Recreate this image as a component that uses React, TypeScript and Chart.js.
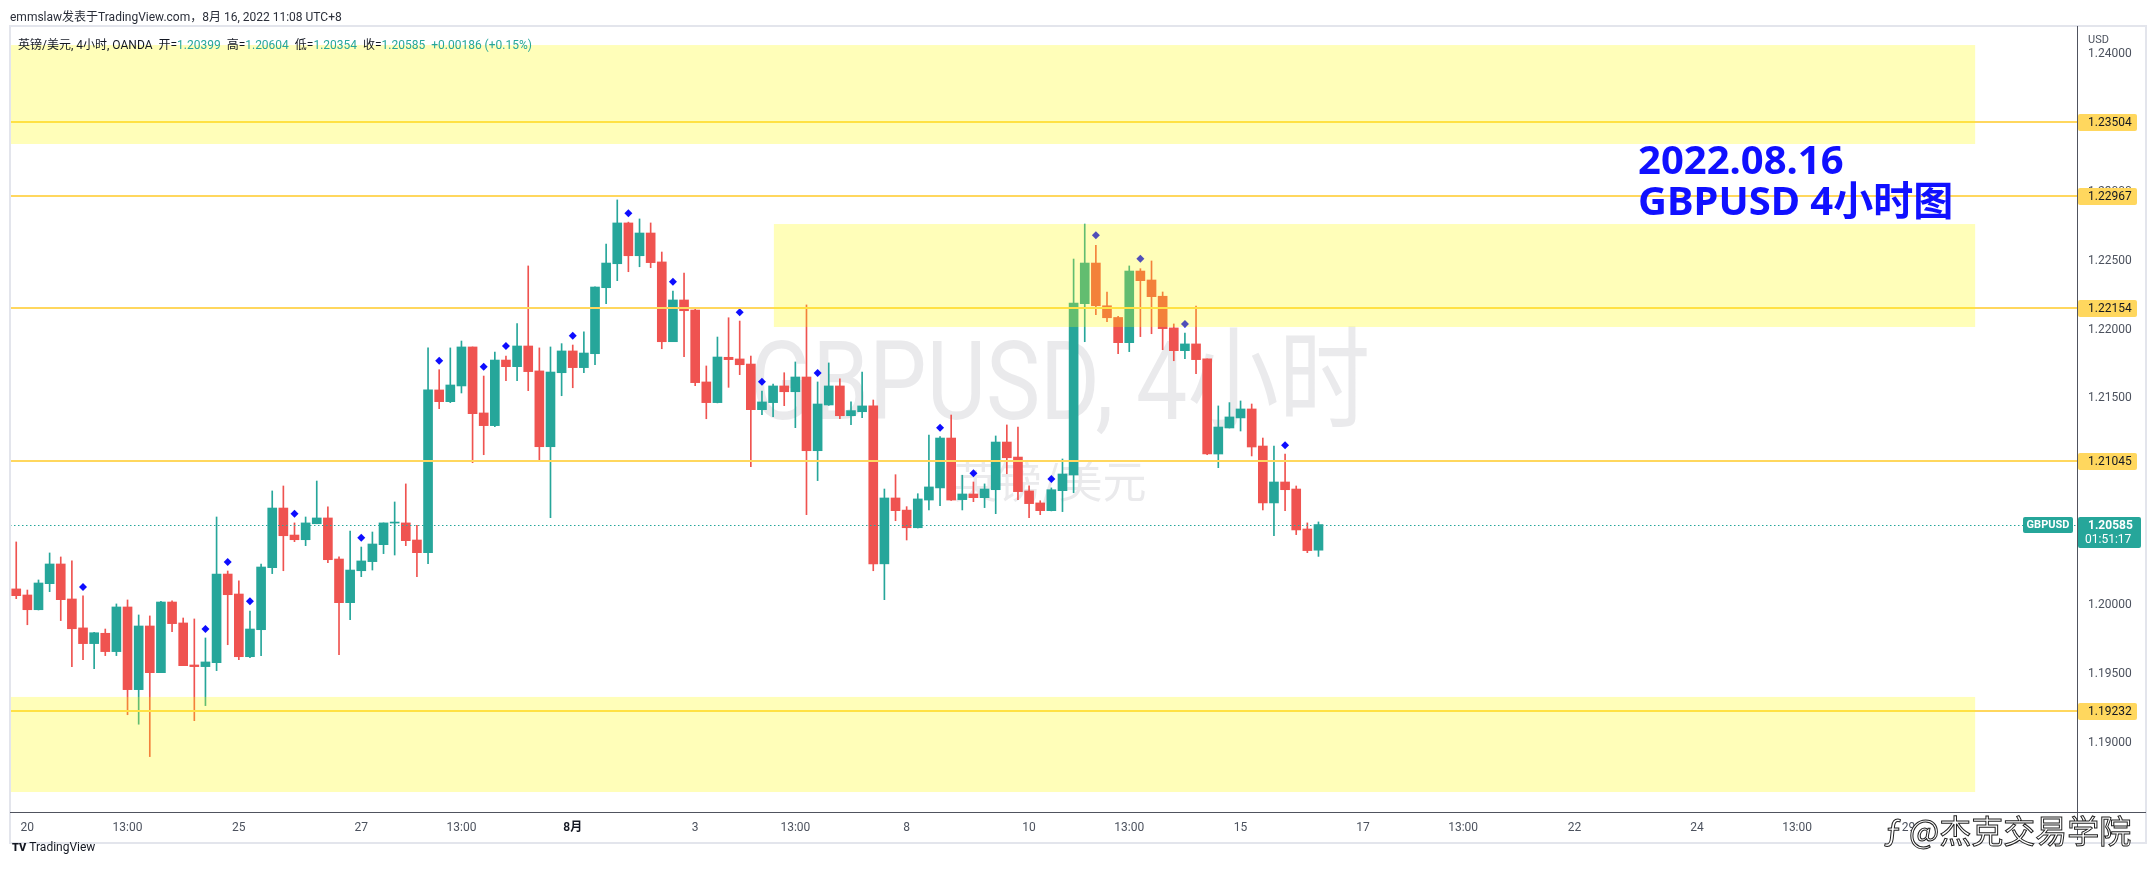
import React, { useEffect, useRef } from 'react';
import { Chart, registerables } from 'chart.js';

Chart.register(...registerables);

// ---- data (4h GBPUSD candles, slot 0 = Jul 20 01:00, UTC+8) ----
const FIRST_SLOT = -1;
const opens = [
  1.20118, 1.20074, 1.19967, 1.20156, 1.20299, 1.20045, 1.19835, 1.19721, 1.19796, 1.19663,
  1.19987, 1.19387, 1.19849, 1.19510, 1.20023, 1.19871, 1.19566, 1.19554, 1.19583, 1.20226,
  1.20081, 1.19626, 1.19822, 1.20272, 1.20705, 1.20509, 1.20475, 1.20591, 1.20633, 1.20335,
  1.20018, 1.20250, 1.20316, 1.20439, 1.20596, 1.20597, 1.20473, 1.20381, 1.21562, 1.21477,
  1.21591, 1.21874, 1.21395, 1.21303, 1.21779, 1.21731, 1.21881, 1.21700, 1.21150, 1.21687,
  1.21845, 1.21724, 1.21825, 1.22304, 1.22478, 1.22774, 1.22536, 1.22701, 1.22491, 1.21912,
  1.22215, 1.22142, 1.21620, 1.21470, 1.21799, 1.21787, 1.21750, 1.21419, 1.21470, 1.21591,
  1.21549, 1.21656, 1.21121, 1.21453, 1.21591, 1.21375, 1.21404, 1.21446, 1.20300, 1.20778,
  1.20690, 1.20562, 1.20763, 1.20851, 1.21213, 1.20766, 1.20807, 1.20780, 1.20838, 1.21184,
  1.21075, 1.20829, 1.20742, 1.20686, 1.20831, 1.20945, 1.22188, 1.22483, 1.22173, 1.22088,
  1.21905, 1.22425, 1.22360, 1.22242, 1.22012, 1.21847, 1.21896, 1.21787, 1.21097, 1.21286,
  1.21359, 1.21424, 1.21155, 1.20742, 1.20894, 1.20843, 1.20553, 1.20399,
];
const highs = [
  1.20459, 1.20110, 1.20183, 1.20379, 1.20350, 1.20321, 1.20067, 1.19803, 1.19827, 1.20009,
  1.20038, 1.19929, 1.19922, 1.20028, 1.20031, 1.19907, 1.19900, 1.19762, 1.20640, 1.20248,
  1.20176, 1.19958, 1.20299, 1.20829, 1.20865, 1.20597, 1.20640, 1.20901, 1.20713, 1.20350,
  1.20538, 1.20422, 1.20531, 1.20597, 1.20749, 1.20880, 1.20580, 1.21867, 1.21709, 1.21867,
  1.21917, 1.21874, 1.21663, 1.21837, 1.21808, 1.22043, 1.22462, 1.21867, 1.21874, 1.21898,
  1.21888, 1.21983, 1.22311, 1.22621, 1.22941, 1.22780, 1.22803, 1.22774, 1.22563, 1.22280,
  1.22411, 1.22152, 1.21736, 1.21946, 1.22086, 1.22062, 1.21808, 1.21554, 1.21605, 1.21687,
  1.21765, 1.22179, 1.21620, 1.21758, 1.21642, 1.21475, 1.21692, 1.21489, 1.20843, 1.20947,
  1.20715, 1.20809, 1.21235, 1.21223, 1.21380, 1.20943, 1.20894, 1.20880, 1.21228, 1.21308,
  1.21293, 1.20867, 1.20758, 1.20851, 1.21061, 1.22512, 1.22766, 1.22612, 1.22273, 1.22097,
  1.22462, 1.22442, 1.22498, 1.22273, 1.22041, 1.21975, 1.22171, 1.21787, 1.21446, 1.21470,
  1.21482, 1.21460, 1.21213, 1.21155, 1.21097, 1.20865, 1.20597, 1.20604,
];
const lows = [
  1.20047, 1.19858, 1.19965, 1.20098, 1.19888, 1.19554, 1.19604, 1.19539, 1.19634, 1.19634,
  1.19205, 1.19136, 1.18901, 1.19510, 1.19808, 1.19561, 1.19162, 1.19271, 1.19525, 1.19713,
  1.19604, 1.19619, 1.19634, 1.20229, 1.20250, 1.20461, 1.20432, 1.20591, 1.20308, 1.19641,
  1.19895, 1.20207, 1.20255, 1.20374, 1.20364, 1.20432, 1.20207, 1.20301, 1.21426, 1.21470,
  1.21540, 1.21034, 1.21092, 1.21296, 1.21629, 1.21629, 1.21557, 1.21056, 1.20635, 1.21520,
  1.21578, 1.21687, 1.21745, 1.22188, 1.22355, 1.22420, 1.22456, 1.22449, 1.21861, 1.21912,
  1.21803, 1.21593, 1.21353, 1.21468, 1.21581, 1.21673, 1.21005, 1.21382, 1.21368, 1.21448,
  1.21288, 1.20657, 1.20904, 1.21450, 1.21353, 1.21310, 1.21361, 1.20250, 1.20040, 1.20613,
  1.20473, 1.20560, 1.20691, 1.20722, 1.20760, 1.20691, 1.20751, 1.20708, 1.20664, 1.20954,
  1.20766, 1.20635, 1.20657, 1.20684, 1.20679, 1.20816, 1.21912, 1.22108, 1.22057, 1.21825,
  1.21840, 1.21949, 1.21970, 1.21854, 1.21774, 1.21789, 1.21680, 1.21092, 1.20998, 1.21286,
  1.21264, 1.21083, 1.20691, 1.20504, 1.20686, 1.20512, 1.20381, 1.20354,
];
const closes = [
  1.20069, 1.19967, 1.20161, 1.20299, 1.20040, 1.19829, 1.19721, 1.19800, 1.19663, 1.19987,
  1.19387, 1.19849, 1.19510, 1.20023, 1.19866, 1.19561, 1.19554, 1.19588, 1.20226, 1.20076,
  1.19626, 1.19827, 1.20277, 1.20705, 1.20504, 1.20475, 1.20597, 1.20633, 1.20330, 1.20018,
  1.20255, 1.20321, 1.20444, 1.20597, 1.20599, 1.20468, 1.20381, 1.21562, 1.21477, 1.21598,
  1.21874, 1.21390, 1.21303, 1.21779, 1.21731, 1.21881, 1.21695, 1.21150, 1.21692, 1.21845,
  1.21724, 1.21830, 1.22309, 1.22483, 1.22774, 1.22536, 1.22701, 1.22486, 1.21912, 1.22215,
  1.22137, 1.21615, 1.21470, 1.21801, 1.21782, 1.21745, 1.21419, 1.21475, 1.21591, 1.21549,
  1.21656, 1.21121, 1.21460, 1.21591, 1.21375, 1.21412, 1.21446, 1.20300, 1.20778, 1.20686,
  1.20562, 1.20771, 1.20858, 1.21213, 1.20763, 1.20807, 1.20780, 1.20843, 1.21184, 1.21070,
  1.20824, 1.20737, 1.20686, 1.20838, 1.20952, 1.22193, 1.22483, 1.22173, 1.22086, 1.21905,
  1.22425, 1.22355, 1.22239, 1.22007, 1.21847, 1.21896, 1.21782, 1.21097, 1.21293, 1.21366,
  1.21424, 1.21148, 1.20742, 1.20894, 1.20838, 1.20546, 1.20396, 1.20585,
];

const markerSlots = [5, 16, 18, 20, 24, 30, 37, 41, 43, 49, 54, 58, 64, 66, 71, 82, 85, 92, 96, 100, 104, 113];
const markerPrices = [
  1.20132, 1.19827, 1.20313, 1.20028, 1.20664, 1.20490, 1.21774, 1.21731, 1.21881, 1.21956,
  1.22844, 1.22348, 1.22126, 1.21622, 1.21685, 1.21288, 1.20957, 1.20916, 1.22684, 1.22515,
  1.22041, 1.21160,
];

const levelPrices = [1.23504, 1.22967, 1.22154, 1.21045, 1.19232];
const zoneTops = [1.24065, 1.22766, 1.19334];
const zoneBottoms = [1.23347, 1.22019, 1.18644];
const zoneStarts = [-10, 67.07, -10];
const zoneEnds = [175.0, 175.0, 175.0];
const lastPrice = 1.20585;
const countdown = '01:51:17';

const yTickValues = [1.19, 1.195, 1.2, 1.205, 1.21, 1.215, 1.22, 1.225, 1.23, 1.235, 1.24];
const xTickSlots = [0, 9, 19, 30, 39, 49, 60, 69, 79, 90, 99, 109, 120, 129, 139, 150, 159, 169];
const xTickLabels = ['20', '13:00', '25', '27', '13:00', '8月', '3', '13:00', '8', '10', '13:00', '15', '17', '13:00', '22', '24', '13:00', '29'];

const X_MIN = -1.56;
const X_MAX = 184.15;
const Y_MIN = 1.18499;
const Y_MAX = 1.24196;

const UP = '#26a69a';
const DOWN = '#ef5350';
const GOLD = '#ffd75e';
const FONT = 'Roboto, "Noto Sans CJK SC", sans-serif';

function roundRect(ctx: CanvasRenderingContext2D, x: number, y: number, w: number, h: number, r: number) {
  ctx.beginPath();
  ctx.moveTo(x + r, y);
  ctx.lineTo(x + w - r, y);
  ctx.quadraticCurveTo(x + w, y, x + w, y + r);
  ctx.lineTo(x + w, y + h - r);
  ctx.quadraticCurveTo(x + w, y + h, x + w - r, y + h);
  ctx.lineTo(x + r, y + h);
  ctx.quadraticCurveTo(x, y + h, x, y + h - r);
  ctx.lineTo(x, y + r);
  ctx.quadraticCurveTo(x, y, x + r, y);
  ctx.closePath();
}

const overlayPlugin = {
  id: 'tvOverlay',
  beforeDatasetsDraw(chart: any) {
    const { ctx, chartArea: a } = chart;
    ctx.save();
    ctx.beginPath();
    ctx.rect(a.left, a.top, a.right - a.left, a.bottom - a.top);
    ctx.clip();
    ctx.fillStyle = 'rgba(149,152,161,0.2)';
    ctx.textBaseline = 'alphabetic';
    ctx.font = '110px ' + FONT;
    const big = 'GBPUSD, 4小时';
    const w = ctx.measureText(big).width;
    ctx.save();
    ctx.translate(750, 419);
    ctx.scale(620 / w, 1);
    ctx.fillText(big, 0, 0);
    ctx.restore();
    ctx.font = '44px "Noto Sans CJK SC", sans-serif';
    ctx.textAlign = 'center';
    ctx.fillText('英镑/美元', 1050, 498);
    ctx.restore();
  },
  afterDatasetsDraw(chart: any) {
    const { ctx, chartArea: a, scales } = chart;
    const xs = scales.x;
    const ys = scales.y;
    ctx.save();
    ctx.beginPath();
    ctx.rect(a.left, a.top, a.right - a.left, a.bottom - a.top);
    ctx.clip();
    // horizontal levels
    ctx.strokeStyle = GOLD;
    ctx.lineWidth = 2;
    levelPrices.forEach((p) => {
      const py = Math.round(ys.getPixelForValue(p));
      ctx.beginPath();
      ctx.moveTo(a.left, py);
      ctx.lineTo(a.right, py);
      ctx.stroke();
    });
    // last price dotted line
    const lp = Math.round(ys.getPixelForValue(lastPrice)) + 0.5;
    ctx.strokeStyle = UP;
    ctx.lineWidth = 1;
    ctx.setLineDash([1.5, 2.5]);
    ctx.beginPath();
    ctx.moveTo(a.left, lp);
    ctx.lineTo(a.right, lp);
    ctx.stroke();
    ctx.setLineDash([]);
    // zones
    ctx.fillStyle = 'rgba(255,252,2,0.28)';
    zoneTops.forEach((t, i) => {
      const x0 = Math.max(a.left, xs.getPixelForValue(zoneStarts[i]));
      const x1 = xs.getPixelForValue(zoneEnds[i]);
      const y0 = ys.getPixelForValue(t);
      const y1 = ys.getPixelForValue(zoneBottoms[i]);
      ctx.fillRect(x0, y0, x1 - x0, y1 - y0);
    });
    ctx.restore();
  },
  afterDraw(chart: any) {
    const { ctx, chartArea: a, scales } = chart;
    const ys = scales.y;
    ctx.save();
    // frame
    ctx.strokeStyle = '#e3e5ec';
    ctx.lineWidth = 2;
    ctx.strokeRect(a.left, 26, 2146 - a.left, 843 - 26);
    // axis cross lines
    ctx.strokeStyle = '#50535e';
    ctx.lineWidth = 1;
    ctx.beginPath();
    ctx.moveTo(a.left, a.bottom + 0.5);
    ctx.lineTo(2146, a.bottom + 0.5);
    ctx.moveTo(a.right + 0.5, 26);
    ctx.lineTo(a.right + 0.5, 840);
    ctx.stroke();
    // USD
    ctx.fillStyle = '#4c525e';
    ctx.font = '11px ' + FONT;
    ctx.textBaseline = 'middle';
    ctx.textAlign = 'left';
    ctx.fillText('USD', a.right + 11, 40);
    // level labels
    levelPrices.forEach((p) => {
      const py = Math.round(ys.getPixelForValue(p));
      ctx.fillStyle = GOLD;
      roundRect(ctx, a.right + 1, py - 8, 59, 17, 2);
      ctx.fill();
      ctx.fillStyle = '#131722';
      ctx.font = '12px ' + FONT;
      ctx.fillText(p.toFixed(5), a.right + 11, py + 0.5);
    });
    // last price label
    const lp = Math.round(ys.getPixelForValue(lastPrice));
    ctx.fillStyle = UP;
    roundRect(ctx, a.right + 1, lp - 8, 63, 31, 2);
    ctx.fill();
    ctx.fillStyle = '#ffffff';
    ctx.font = 'bold 12px ' + FONT;
    ctx.fillText(lastPrice.toFixed(5), a.right + 11, lp + 0.5);
    ctx.font = '12px ' + FONT;
    ctx.fillText(countdown, a.right + 8, lp + 15);
    // symbol tag
    ctx.fillStyle = UP;
    roundRect(ctx, a.right - 54, lp - 8, 50, 16, 2);
    ctx.fill();
    ctx.fillStyle = '#ffffff';
    ctx.font = 'bold 11px ' + FONT;
    ctx.textAlign = 'center';
    ctx.fillText('GBPUSD', a.right - 29, lp + 0.5);
    ctx.restore();
  },
};

export default function App() {
  const ref = useRef<HTMLCanvasElement | null>(null);

  useEffect(() => {
    if (!ref.current) return;
    const slots = opens.map((_, i) => FIRST_SLOT + i);
    const colors = opens.map((o, i) => (closes[i] >= o ? UP : DOWN));
    const bodyData = slots.map((x, i) => ({ x, y: [opens[i], closes[i]] }));
    const wickData = slots.map((x, i) => ({ x, y: [lows[i], highs[i]] }));
    const markerData = markerSlots.map((x, i) => ({ x, y: markerPrices[i] }));

    const chart = new Chart(ref.current, {
      type: 'bar',
      data: {
        datasets: [
          {
            type: 'scatter',
            data: markerData as any,
            pointStyle: 'rectRot',
            pointRadius: 4,
            backgroundColor: '#0d0dff',
            borderWidth: 0,
            order: 0,
          } as any,
          {
            type: 'bar',
            data: bodyData as any,
            backgroundColor: colors,
            borderWidth: 0,
            barThickness: 9,
            minBarLength: 1,
            grouped: false,
            order: 1,
          } as any,
          {
            type: 'bar',
            data: wickData as any,
            backgroundColor: colors,
            borderWidth: 0,
            barThickness: 1,
            grouped: false,
            order: 2,
          } as any,
        ],
      },
      options: {
        responsive: false,
        animation: false,
        devicePixelRatio: 1,
        layout: { padding: { left: 10, top: 27, right: 10, bottom: 32 } },
        plugins: { legend: { display: false }, tooltip: { enabled: false } },
        scales: {
          x: {
            type: 'linear',
            min: X_MIN,
            max: X_MAX,
            offset: false,
            grid: { display: false, drawTicks: false },
            border: { display: false },
            afterBuildTicks: (s: any) => {
              s.ticks = xTickSlots.map((v) => ({ value: v }));
            },
            afterFit: (s: any) => {
              s.height = 31;
            },
            ticks: {
              autoSkip: false,
              maxRotation: 0,
              padding: 9,
              color: (c: any) => (c.tick && c.tick.value === 49 ? '#131722' : '#4c525e'),
              font: (c: any) => ({ family: FONT, size: 12, weight: c.tick && c.tick.value === 49 ? '600' : 'normal' }),
              callback: (v: any) => {
                const k = xTickSlots.indexOf(Number(v));
                return k >= 0 ? xTickLabels[k] : '';
              },
            },
          },
          y: {
            type: 'linear',
            position: 'right',
            min: Y_MIN,
            max: Y_MAX,
            grid: { display: false, drawTicks: false },
            border: { display: false },
            afterBuildTicks: (s: any) => {
              s.ticks = yTickValues.map((v) => ({ value: v }));
            },
            afterFit: (s: any) => {
              s.width = 69;
            },
            ticks: {
              padding: 11,
              color: '#4c525e',
              font: { family: FONT, size: 12 },
              callback: (v: any) => Number(v).toFixed(5),
            },
          },
        },
      } as any,
      plugins: [overlayPlugin as any],
    });
    return () => chart.destroy();
  }, []);

  const teal = { color: UP };
  return (
    <div
      style={{
        position: 'fixed',
        left: 0,
        top: 0,
        width: 2156,
        height: 875,
        background: '#ffffff',
        overflow: 'hidden',
        fontFamily: FONT,
      }}
    >
      <canvas ref={ref} width={2156} height={875} style={{ position: 'absolute', left: 0, top: 0 }} />
      <div style={{ position: 'absolute', left: 10, top: 7, fontSize: 12, color: '#2a2e39', whiteSpace: 'nowrap' }}>
        emmslaw发表于TradingView.com，8月 16, 2022 11:08 UTC+8
      </div>
      <div style={{ position: 'absolute', left: 18, top: 35, fontSize: 12, color: '#131722', whiteSpace: 'pre' }}>
        <span>英镑/美元, 4小时, OANDA  </span>
        <span>开=</span><span style={teal}>1.20399</span>
        <span>  高=</span><span style={teal}>1.20604</span>
        <span>  低=</span><span style={teal}>1.20354</span>
        <span>  收=</span><span style={teal}>1.20585</span>
        <span style={teal}>  +0.00186 (+0.15%)</span>
      </div>
      <div
        style={{
          position: 'absolute',
          left: 1638,
          top: 138,
          fontSize: 40,
          lineHeight: '41px',
          fontWeight: 'bold',
          color: '#1010ff',
          fontFamily: '"Noto Sans", "Noto Sans CJK SC", sans-serif',
          whiteSpace: 'nowrap',
        }}
      >
        <div>2022.08.16</div>
        <div>GBPUSD 4小时图</div>
      </div>
      <div style={{ position: 'absolute', left: 12, top: 840, fontSize: 12, color: '#131722', whiteSpace: 'nowrap' }}>
        <span style={{ fontWeight: 900, fontSize: 11, marginRight: 3 }}>TV</span>TradingView
      </div>
      <div
        style={{
          position: 'absolute',
          left: 1884,
          top: 806,
          fontSize: 32,
          color: '#ffffff',
          WebkitTextStroke: '1px #222',
          fontFamily: '"Noto Sans CJK SC", sans-serif',
          whiteSpace: 'nowrap',
        }}
      >
        ƒ @杰克交易学院
      </div>
    </div>
  );
}
